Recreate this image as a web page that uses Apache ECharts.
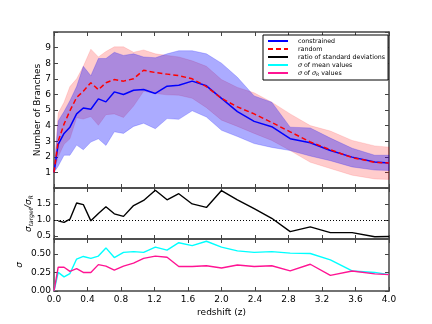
<!DOCTYPE html>
<html><head><meta charset="utf-8">
<script src="https://cdn.jsdelivr.net/npm/echarts@6/dist/echarts.min.js"></script>
<style>html,body{margin:0;padding:0;background:#fff}#c{width:432px;height:324px}</style>
</head><body><div id="c"></div>
<script>
const zs = [0, 0.05, 0.12, 0.19, 0.27, 0.35, 0.44, 0.53, 0.62, 0.72, 0.83, 0.95, 1.07, 1.21, 1.35, 1.49, 1.65, 1.82, 2.0, 2.19, 2.39, 2.6, 2.82, 3.06, 3.3, 3.56, 3.83, 4.0];
const constrained   = [1.0, 2.8, 3.5, 3.9, 4.75, 5.13, 5.05, 5.71, 5.52, 6.16, 5.99, 6.27, 6.31, 6.06, 6.53, 6.59, 6.85, 6.55, 5.75, 4.9, 4.27, 3.93, 3.16, 2.9, 2.4, 1.98, 1.66, 1.6];
const constrainedHi = [1.0, 4.3, 4.9, 5.6, 6.5, 7.8, 7.2, 8.3, 8.3, 8.7, 8.5, 8.6, 8.4, 8.35, 8.6, 8.8, 8.8, 8.6, 8.0, 7.1, 5.9, 5.5, 3.9, 3.85, 3.2, 2.55, 2.1, 2.1];
const constrainedLo = [1.0, 1.4, 2.1, 2.1, 2.75, 2.45, 2.95, 3.15, 2.73, 3.6, 3.5, 3.95, 4.15, 3.8, 4.45, 4.4, 4.95, 4.55, 3.7, 3.3, 2.85, 2.6, 2.4, 2.05, 1.75, 1.35, 1.15, 1.12];
const random   = [1.0, 3.0, 4.1, 4.95, 5.8, 6.2, 6.75, 6.3, 6.75, 6.95, 6.85, 7.0, 7.55, 7.4, 7.3, 7.2, 7.0, 6.5, 5.75, 5.2, 4.75, 4.2, 3.6, 2.95, 2.45, 1.95, 1.65, 1.6];
const randomHi = [1.0, 4.8, 5.5, 6.5, 7.0, 7.8, 8.9, 8.4, 8.75, 9.05, 9.05, 8.7, 8.85, 8.6, 8.5, 8.4, 8.15, 7.8, 6.95, 6.45, 6.1, 5.5, 4.75, 4.0, 3.65, 3.05, 2.7, 2.62];
const randomLo = [1.0, 2.0, 2.8, 3.15, 4.5, 4.42, 4.58, 4.02, 4.7, 4.75, 4.52, 5.25, 6.2, 6.06, 5.97, 5.95, 5.75, 5.15, 4.35, 3.95, 3.5, 3.05, 2.4, 1.65, 1.25, 0.82, 0.58, 0.55];
const ratio = [null, 0.97, 0.92, 1.02, 1.53, 1.48, 0.97, 1.2, 1.41, 1.19, 1.11, 1.45, 1.61, 1.93, 1.63, 1.82, 1.5, 1.39, 1.92, 1.63, 1.35, 1.05, 0.63, 0.78, 0.6, 0.6, 0.47, 0.48];
const sigmaMean  = [0, 0.25, 0.19, 0.235, 0.43, 0.465, 0.44, 0.47, 0.58, 0.45, 0.52, 0.53, 0.52, 0.59, 0.55, 0.65, 0.61, 0.67, 0.59, 0.54, 0.52, 0.53, 0.51, 0.505, 0.42, 0.27, 0.25, 0.22];
const sigmaSigma = [0, 0.32, 0.32, 0.265, 0.3, 0.25, 0.25, 0.355, 0.335, 0.28, 0.335, 0.375, 0.44, 0.47, 0.455, 0.33, 0.33, 0.34, 0.31, 0.35, 0.33, 0.34, 0.27, 0.36, 0.21, 0.27, 0.23, 0.22];
const ratioTicks = [0.5, 1.0, 1.5];
const sigmaTicks = [0, 0.25, 0.5];
const legendNames = ['constrained', 'random', 'ratio of standard deviations', 'σ of mean values', 'σ of σR values'];

const FONT = 'DejaVu Sans';
const AX = '#444';
const pts = arr => zs.map((z, i) => [z, arr[i]]);

function xAx(gi, pos, showLabel, extra) {
  return Object.assign({
    type: 'value', gridIndex: gi, position: pos, min: 0, max: 4, interval: 0.4,
    axisLine: {show: true, onZero: false, lineStyle: {color: AX, width: 1.5}},
    axisTick: {show: true, inside: true, length: 4, lineStyle: {color: AX, width: 1}},
    axisLabel: {show: showLabel, fontFamily: FONT, fontSize: 9, color: '#000', margin: 4,
      formatter: v => v.toFixed(1)},
    splitLine: {show: false}
  }, extra || {});
}
function yAx(gi, pos, showLabel, extra) {
  return Object.assign({
    type: 'value', gridIndex: gi, position: pos, nameMoveOverlap: false,
    axisLine: {show: true, onZero: false, lineStyle: {color: AX, width: 1.5}},
    axisTick: {show: true, inside: true, length: 4, lineStyle: {color: AX, width: 1}},
    axisLabel: {show: showLabel, fontFamily: FONT, fontSize: 9, color: '#000', margin: 3},
    splitLine: {show: false}
  }, extra || {});
}

function band(hi, lo, color, xi, yi) {
  return {
    type: 'custom', xAxisIndex: xi, yAxisIndex: yi, z: 1, silent: true,
    data: [[zs[0], lo[0]]],
    renderItem: (params, api) => {
      const p = [];
      for (let i = 0; i < zs.length; i++) p.push(api.coord([zs[i], hi[i]]));
      for (let i = zs.length - 1; i >= 0; i--) p.push(api.coord([zs[i], lo[i]]));
      return {type: 'polygon', shape: {points: p}, style: {fill: color, stroke: color, lineWidth: 0.6}};
    }
  };
}
function line(name, arr, color, xi, yi, extra) {
  return Object.assign({
    name, type: 'line', xAxisIndex: xi, yAxisIndex: yi, data: pts(arr), z: 3,
    symbol: 'none', showSymbol: false, connectNulls: false,
    lineStyle: {color, width: 1.4}, itemStyle: {color}
  }, extra || {});
}

const yMid = {min: 0.4, max: 2.0};
const yBot = {min: 0, max: 0.7};

const option = {
  animation: false,
  backgroundColor: '#fff',
  grid: [
    {left: 54, top: 32, width: 335, height: 156},
    {left: 54, top: 188, width: 335, height: 51},
    {left: 54, top: 239, width: 335, height: 52}
  ],
  xAxis: [
    xAx(0, 'bottom', false), xAx(0, 'top', false),
    xAx(1, 'bottom', false), xAx(1, 'top', false),
    xAx(2, 'bottom', true, {name: 'redshift (z)', nameLocation: 'middle', nameGap: 17,
      nameTextStyle: {fontFamily: FONT, fontSize: 9, color: '#000'}}),
    xAx(2, 'top', false)
  ],
  yAxis: [
    yAx(0, 'left', true, {min: 0, max: 10, interval: 1,
      axisLabel: {show: true, fontFamily: FONT, fontSize: 9, color: '#000', margin: 3,
        formatter: v => (v === 0 || v === 10) ? '' : String(v)},
      name: 'Number of Branches', nameLocation: 'middle', nameGap: 12,
      nameTextStyle: {fontFamily: FONT, fontSize: 9, color: '#000'}}),
    yAx(0, 'right', false, {min: 0, max: 10, interval: 1}),
    yAx(1, 'left', true, Object.assign({}, yMid, {
      axisTick: {show: true, inside: true, length: 4, lineStyle: {color: AX}, customValues: ratioTicks},
      axisLabel: {show: true, fontFamily: FONT, fontSize: 9, color: '#000', margin: 3,
        customValues: ratioTicks, formatter: v => v.toFixed(1)},
      name: '{s|σ}{sub|target}{s|/σ}{sub|R}', nameLocation: 'middle', nameGap: 20,
      nameTextStyle: {fontFamily: FONT, fontSize: 9, color: '#000',
        rich: {s: {fontFamily: FONT, fontSize: 9, fontStyle: 'italic', color: '#000'},
               sub: {fontFamily: FONT, fontSize: 6, fontStyle: 'italic', color: '#000', padding: [5, 0, 0, 0]}}}})),
    yAx(1, 'right', false, Object.assign({}, yMid, {
      axisTick: {show: true, inside: true, length: 4, lineStyle: {color: AX}, customValues: ratioTicks}})),
    yAx(2, 'left', true, Object.assign({}, yBot, {
      axisTick: {show: true, inside: true, length: 4, lineStyle: {color: AX}, customValues: sigmaTicks},
      axisLabel: {show: true, fontFamily: FONT, fontSize: 9, color: '#000', margin: 3,
        customValues: sigmaTicks, formatter: v => v.toFixed(2)},
      name: 'σ', nameLocation: 'middle', nameGap: 30,
      nameTextStyle: {fontFamily: FONT, fontSize: 9, fontStyle: 'italic', color: '#000'}})),
    yAx(2, 'right', false, Object.assign({}, yBot, {
      axisTick: {show: true, inside: true, length: 4, lineStyle: {color: AX}, customValues: sigmaTicks}}))
  ],
  legend: {
    data: legendNames, orient: 'vertical', left: 263, top: 35,
    backgroundColor: '#fff', borderColor: '#000', borderWidth: 1,
    padding: [3, 3, 3, 4], itemWidth: 20, itemHeight: 7, itemGap: 2,
    selectedMode: false,
    itemStyle: {opacity: 0},
    textStyle: {fontFamily: FONT, fontSize: 6.3, color: '#000', padding: [0, 0, 0, 5],
      rich: {i: {fontFamily: FONT, fontSize: 6.3, fontStyle: 'italic', color: '#000'},
             sub: {fontFamily: FONT, fontSize: 4.5, fontStyle: 'italic', color: '#000', padding: [3, 0, 0, 0]}}},
    formatter: n => {
      if (n === 'σ of mean values') return '{i|σ} of mean values';
      if (n === 'σ of σR values') return '{i|σ} of {i|σ}{sub|R} values';
      return n;
    }
  },
  series: [
    band(randomHi, randomLo, 'rgba(255,0,0,0.2)', 0, 0),
    band(constrainedHi, constrainedLo, 'rgba(0,0,255,0.33)', 0, 0),
    line('constrained', constrained, '#0000ff', 0, 0, {lineStyle: {color: '#0000ff', width: 1.5}}),
    line('random', random, '#ff0000', 0, 0, {lineStyle: {color: '#ff0000', width: 1.5, type: [5, 3]}}),
    line('ratio of standard deviations', ratio, '#000000', 2, 2, {
      markLine: {silent: true, symbol: 'none', label: {show: false},
        lineStyle: {color: '#000', type: [1, 2], width: 1}, data: [{yAxis: 1}]}}),
    line('σ of mean values', sigmaMean, '#00ffff', 4, 4),
    line('σ of σR values', sigmaSigma, '#ff1493', 4, 4)
  ]
};
const chart = echarts.init(document.getElementById('c'), null, {renderer: 'canvas'});
chart.setOption(option);
</script></body></html>
